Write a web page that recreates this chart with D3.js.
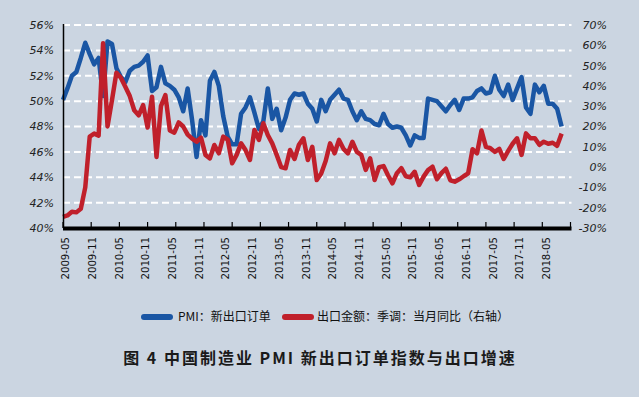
<!DOCTYPE html>
<html>
<head>
<meta charset="utf-8">
<script src="https://cdn.jsdelivr.net/npm/d3@7"></script>
<style>
  body { margin: 0; background: #cbd5e1; }
  svg { display: block; }
</style>
</head>
<body>
<div class="canvas"></div>
<script>
// data (monthly, starting 2009-05)
const startMonth = "2009-05"
const pmiExportOrders = [
  50.1, 51.0, 52.0, 52.3, 53.4, 54.6, 53.7, 52.9, 53.4, 50.4,
  54.7, 54.5, 52.6, 51.9, 51.5, 52.4, 52.7, 52.8, 53.1, 53.6,
  50.8, 51.1, 52.7, 51.4, 51.2, 50.9, 50.3, 49.2, 51.0, 48.5,
  45.6, 48.5, 47.3, 51.6, 52.3, 51.2, 48.8, 47.2, 46.6, 46.6,
  49.0, 49.5, 50.3, 49.1, 47.8, 48.4, 51.0, 48.6, 49.4, 47.7,
  48.7, 50.1, 50.6, 50.5, 50.6, 49.8, 49.4, 48.4, 50.1, 49.2,
  50.1, 50.5, 50.9, 50.2, 50.1, 49.2, 48.5, 49.2, 48.6, 48.5,
  48.2, 48.1, 49.0, 48.2, 47.9, 48.0, 47.9, 47.3, 46.5, 47.3,
  47.1, 47.1, 50.2, 50.1, 50.0, 49.6, 49.2, 49.7, 50.1, 49.3,
  50.2, 50.2, 50.3, 50.8, 51.0, 50.6, 50.7, 52.0, 50.9, 50.4,
  51.3, 50.1, 51.0, 51.9, 49.5, 49.0, 51.3, 50.7, 51.2, 49.8,
  49.8, 49.4, 48.0
]
const exportYoY = [
  -24.5, -23.8, -22.0, -22.3, -20.5, -10.0, 15.0, 16.5, 15.5, 61.0,
  20.0, 33.0, 46.5, 44.0, 39.6, 35.0, 28.0, 25.5, 30.5, 19.5,
  34.7, 5.0, 30.0, 35.5, 18.0, 17.0, 22.0, 20.0, 16.0, 14.0,
  12.5, 14.5, 6.0, 4.3, 10.9, 6.8, 15.0, 13.5, 1.9, 6.0,
  11.7, 8.4, 3.5, 18.3, 13.4, 21.6, 15.8, 11.7, 6.0, 0.0,
  -0.6, 8.4, 4.0, 11.0, 14.2, 3.5, 10.0, -6.4, -3.1, 3.0,
  11.7, 6.8, 13.4, 9.0, 6.8, 12.5, 7.5, 6.0, -1.4, 4.3,
  -6.4, 0.0, 0.5, -4.0, -8.0, -3.0, -0.5, -4.5, -5.0, -2.3,
  -8.8, -4.7, -1.5, 0.2, -6.0, -3.0, -0.8, -6.5, -7.2, -6.0,
  -4.5, -3.1, 8.8, 6.8, 18.0, 10.0, 9.3, 7.5, 9.0, 4.0,
  8.0, 11.5, 14.2, 6.0, 16.6, 14.2, 14.2, 11.0, 12.5, 11.5,
  12.0, 10.5, 16.5
]
const leftTicks = [40, 42, 44, 46, 48, 50, 52, 54, 56]
const rightTicks = [-30, -20, -10, 0, 10, 20, 30, 40, 50, 60, 70]
const tickLabels = ["2009-05", "2009-11", "2010-05", "2010-11", "2011-05", "2011-11",
  "2012-05", "2012-11", "2013-05", "2013-11", "2014-05", "2014-11", "2015-05",
  "2015-11", "2016-05", "2016-11", "2017-05", "2017-11", "2018-05"]
const seriesNames = ["PMI：新出口订单", "出口金额：季调：当月同比（右轴）"]
const title = "图 4 中国制造业 PMI 新出口订单指数与出口增速"

// settings
const width = 639, height = 397
const plot = {left: 63, right: 570.5, top: 25, bottom: 228}
const blue = "#1a56a4", red = "#c0202b"
const tickFont = "'DejaVu Sans', Verdana, sans-serif"
const cjkFont = "'Noto Sans CJK SC', sans-serif"

const months = pmiExportOrders.map((d, i) => {
  const [y, m] = startMonth.split("-").map(Number)
  const t = new Date(y, m - 1 + i, 1)
  return d3.timeFormat("%Y-%m")(t)
})

const svg = d3.select(".canvas").append("svg")
  .attr("width", width)
  .attr("height", height)

svg.append("rect")
  .attr("width", width).attr("height", height)
  .attr("fill", "#cbd5e1")

const x = d3.scaleLinear().domain([0, 114]).range([plot.left, plot.right])
const yL = d3.scaleLinear().domain([40, 56]).range([plot.bottom, plot.top])
const yR = d3.scaleLinear().domain([-30, 70]).range([plot.bottom, plot.top])
const tickPos = d3.scaleLinear().domain([0, 18]).range([plot.left, plot.right])

// gridlines
svg.append("g").selectAll("line")
  .data(leftTicks.slice(1))
  .join("line")
    .attr("x1", plot.left).attr("x2", plot.right + 1)
    .attr("y1", d => yL(d)).attr("y2", d => yL(d))
    .attr("stroke", "#fff")
    .attr("stroke-width", 2)
    .attr("stroke-dasharray", "7,4")

// left labels
svg.append("g").selectAll("text")
  .data(leftTicks)
  .join("text")
    .attr("x", 54)
    .attr("y", d => yL(d))
    .attr("dy", "0.36em")
    .attr("text-anchor", "end")
    .attr("font-family", tickFont)
    .attr("font-style", "italic")
    .attr("font-size", 11)
    .attr("fill", "#222")
    .text(d => d + "%")

// right labels
svg.append("g").selectAll("text")
  .data(rightTicks)
  .join("text")
    .attr("x", 607)
    .attr("y", d => yR(d))
    .attr("dy", "0.36em")
    .attr("text-anchor", "end")
    .attr("font-family", tickFont)
    .attr("font-style", "italic")
    .attr("font-size", 11)
    .attr("fill", "#222")
    .text(d => d + "%")

// lines
const lineL = d3.line().x((d, i) => x(i)).y(d => yL(d))
const lineR = d3.line().x((d, i) => x(i)).y(d => yR(d))

svg.append("path")
  .datum(pmiExportOrders)
  .attr("d", lineL)
  .attr("fill", "none")
  .attr("stroke", blue)
  .attr("stroke-width", 4.5)
  .attr("stroke-linejoin", "round")

svg.append("path")
  .datum(exportYoY)
  .attr("d", lineR)
  .attr("fill", "none")
  .attr("stroke", red)
  .attr("stroke-width", 4.5)
  .attr("stroke-linejoin", "round")

// axes
svg.append("line")
  .attr("x1", plot.left + 0.5).attr("x2", plot.left + 0.5)
  .attr("y1", plot.top - 1).attr("y2", plot.bottom)
  .attr("stroke", "#000").attr("stroke-width", 1.5)

svg.append("g").selectAll("line")
  .data(d3.range(19))
  .join("line")
    .attr("x1", d => tickPos(d)).attr("x2", d => tickPos(d))
    .attr("y1", plot.bottom - 6).attr("y2", plot.bottom)
    .attr("stroke", "#000").attr("stroke-width", 1.2)

svg.append("line")
  .attr("x1", plot.left).attr("x2", plot.right + 1)
  .attr("y1", plot.bottom + 0.5).attr("y2", plot.bottom + 0.5)
  .attr("stroke", "#000").attr("stroke-width", 4)

// x labels
svg.append("g").selectAll("text")
  .data(tickLabels)
  .join("text")
    .attr("transform", d => `translate(${x(months.indexOf(d)) + 2.5}, 237) rotate(-90)`)
    .attr("dy", "0.36em")
    .attr("text-anchor", "end")
    .attr("font-family", tickFont)
    .attr("font-size", 10.2)
    .attr("fill", "#111")
    .text(d => d)

// legend
const legend = svg.append("g").attr("transform", "translate(0, 317)")
const legendX = [[144, 178], [285, 317]]
const legendColors = [blue, red]
seriesNames.forEach((name, i) => {
  legend.append("line")
    .attr("x1", legendX[i][0]).attr("x2", legendX[i][0] + 26)
    .attr("y1", 0).attr("y2", 0)
    .attr("stroke", legendColors[i])
    .attr("stroke-width", 6)
    .attr("stroke-linecap", "round")
  legend.append("text")
    .attr("x", legendX[i][1])
    .attr("y", 0)
    .attr("dy", "0.36em")
    .attr("font-family", cjkFont)
    .attr("font-size", 12)
    .attr("fill", "#111")
    .text(name)
})

// title
svg.append("text")
  .attr("x", 320)
  .attr("y", 358)
  .attr("dy", "0.36em")
  .attr("text-anchor", "middle")
  .attr("font-family", cjkFont)
  .attr("font-weight", "bold")
  .attr("font-size", 16)
  .attr("letter-spacing", 2)
  .attr("fill", "#1a1a1a")
  .text(title)
</script>
</body>
</html>
